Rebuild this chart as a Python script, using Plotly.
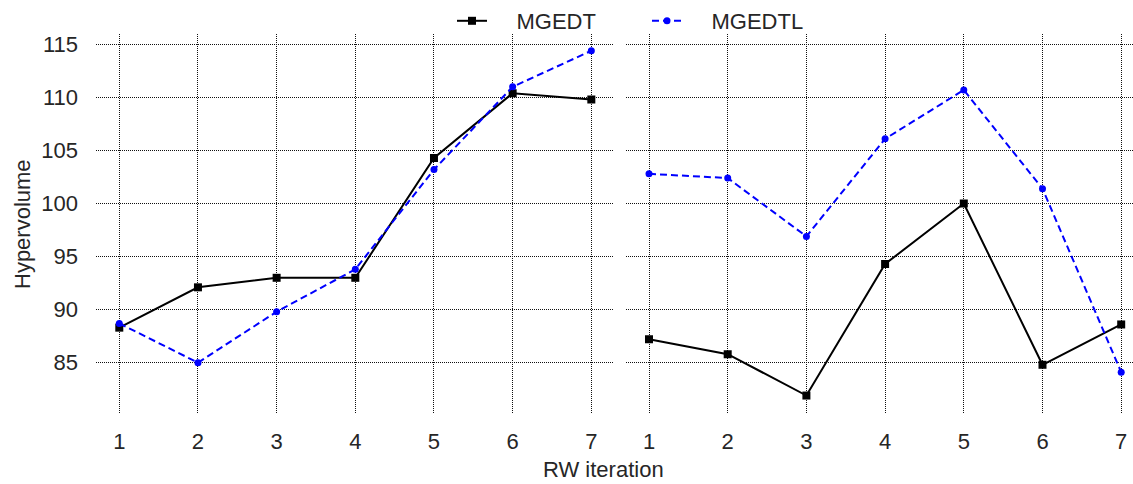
import plotly.graph_objects as go
from plotly.subplots import make_subplots

# RW iterations shown on both panels
iterations = [1, 2, 3, 4, 5, 6, 7]

# Hypervolume per iteration, left panel
left_mgedt = [88.3, 92.1, 93.0, 93.0, 104.3, 110.4, 109.8]
left_mgedtl = [88.7, 85.0, 89.8, 93.8, 103.2, 111.0, 114.4]

# Hypervolume per iteration, right panel
right_mgedt = [87.2, 85.8, 81.9, 94.3, 100.0, 84.8, 88.6]
right_mgedtl = [102.8, 102.4, 96.9, 106.1, 110.7, 101.4, 84.1]

y_ticks = [85, 90, 95, 100, 105, 110, 115]

FONT = "Liberation Sans, Arial, sans-serif"
TEXT = "#262626"
PAD = "\u00a0" * 4

W, H = 1133, 484
ML, MR, MT, MB = 96, 0, 34, 70

fig = make_subplots(rows=1, cols=2, shared_yaxes=True)

black_style = dict(mode="lines+markers", line=dict(color="black", width=2),
                   marker=dict(symbol="square", size=8, color="black"))
blue_style = dict(mode="lines+markers", line=dict(color="#0000ff", width=2, dash="7px,4px"),
                  marker=dict(symbol="circle", size=7, color="#0000ff"))

fig.add_trace(go.Scatter(x=iterations, y=left_mgedt, name=PAD + "MGEDT", legendgroup="a", **black_style), 1, 1)
fig.add_trace(go.Scatter(x=iterations, y=left_mgedtl, name=PAD + "MGEDTL", legendgroup="b", **blue_style), 1, 1)
fig.add_trace(go.Scatter(x=iterations, y=right_mgedt, name="MGEDT", legendgroup="a", showlegend=False, **black_style), 1, 2)
fig.add_trace(go.Scatter(x=iterations, y=right_mgedtl, name="MGEDTL", legendgroup="b", showlegend=False, **blue_style), 1, 2)

pw = W - ML - MR
ph = H - MT - MB
grid = dict(showgrid=True, gridcolor="#111111", gridwidth=1, griddash="1px,1px",
            zeroline=False, showline=False,
            tickfont=dict(family=FONT, size=22, color=TEXT))

fig.update_xaxes(**grid, tickvals=iterations, ticklabelstandoff=12)
fig.update_xaxes(domain=[0, (614.3 - ML) / pw], range=[0.704, 7.292], row=1, col=1)
fig.update_xaxes(domain=[(625.7 - ML) / pw, 1], range=[0.704, 7.15], row=1, col=2)
fig.update_yaxes(**grid, tickvals=y_ticks, range=[80.16, 115.98])
fig.update_yaxes(ticklabelstandoff=17, row=1, col=1)
fig.update_yaxes(showticklabels=False, row=1, col=2)

fig.update_layout(
    width=W, height=H,
    margin=dict(l=ML, r=MR, t=MT, b=MB),
    paper_bgcolor="white", plot_bgcolor="white",
    font=dict(family=FONT, size=22, color=TEXT),
    showlegend=True,
    legend=dict(orientation="h", x=(452 - ML) / pw, xanchor="left",
                y=1 + (MT - 21) / ph, yanchor="middle",
                font=dict(family=FONT, size=22, color=TEXT),
                bgcolor="rgba(0,0,0,0)", entrywidth=150),
    annotations=[
        dict(text="RW iteration", xref="paper", yref="paper",
             x=(603 - ML) / pw, y=-(469 - (H - MB)) / ph,
             xanchor="center", yanchor="middle", showarrow=False,
             font=dict(family=FONT, size=22, color=TEXT)),
        dict(text="Hypervolume", xref="paper", yref="paper",
             x=-(ML - 22) / pw, y=0.5, textangle=-90,
             xanchor="center", yanchor="middle", showarrow=False,
             font=dict(family=FONT, size=22, color=TEXT)),
    ],
)

fig.write_html("out.html")
